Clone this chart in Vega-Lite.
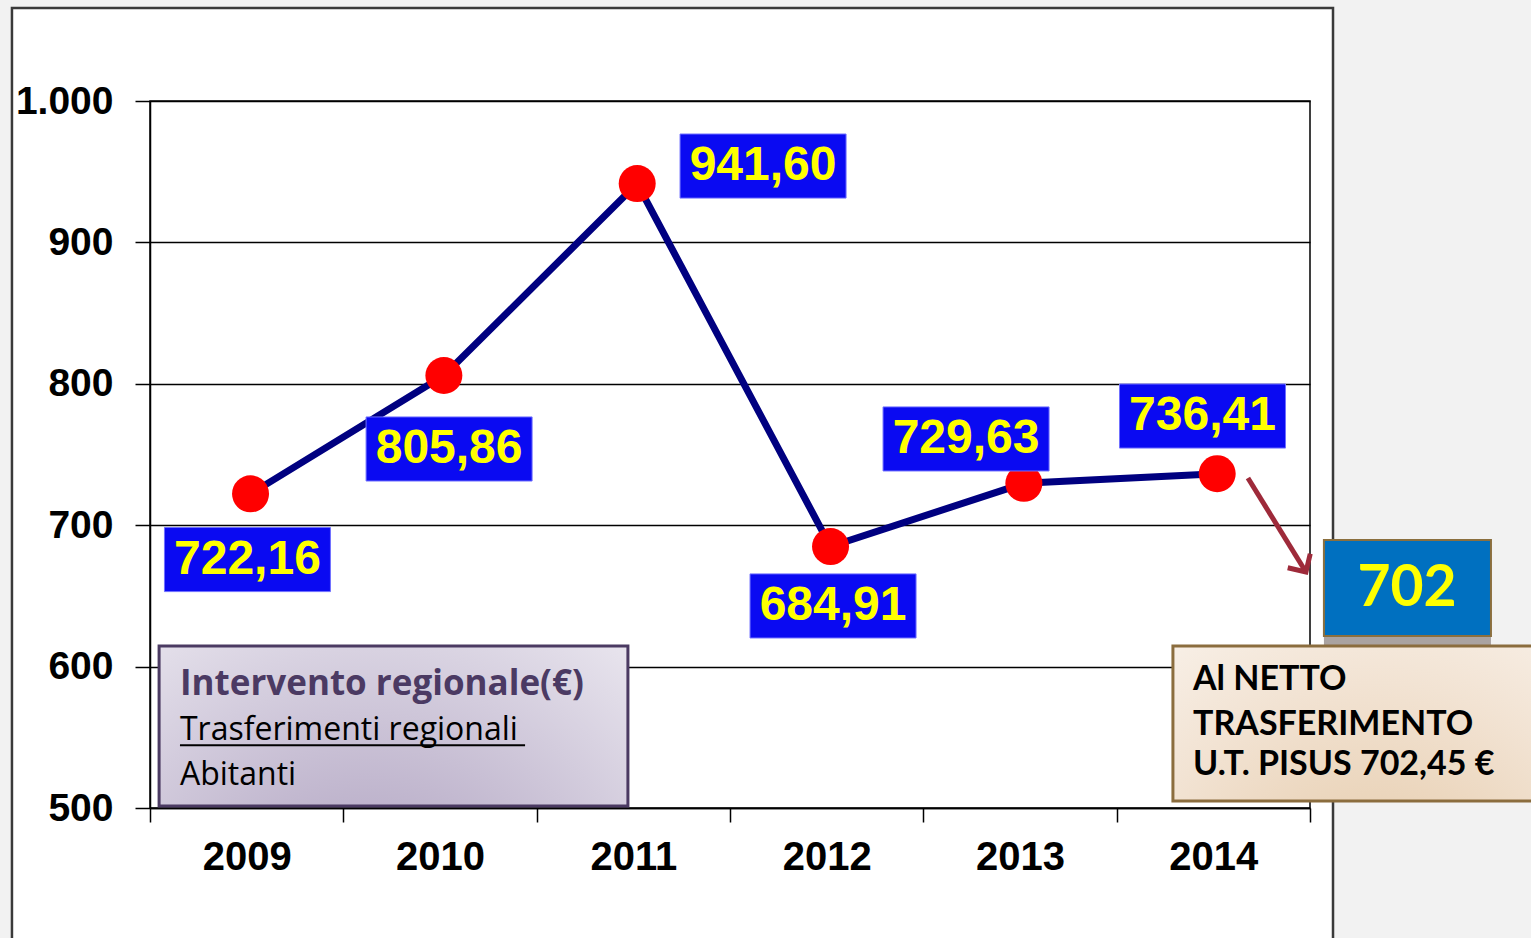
{
  "$schema": "https://vega.github.io/schema/vega-lite/v6.json",
  "width": 1160,
  "height": 707,
  "autosize": {"type": "none"},
  "padding": {"left": 150, "top": 101, "right": 221, "bottom": 130},
  "background": "white",
  "config": {"view": {"stroke": "black", "strokeWidth": 1.5}},
  "datasets": {
    "main": [
      {"year": "2009", "value": 722.16},
      {"year": "2010", "value": 805.86},
      {"year": "2011", "value": 941.60},
      {"year": "2012", "value": 684.91},
      {"year": "2013", "value": 729.63},
      {"year": "2014", "value": 736.41}
    ],
    "labels": [
      {"t": "722,16", "u": 0.504, "v": 675.7},
      {"t": "805,86", "u": 1.547, "v": 753.9},
      {"t": "941,60", "u": 3.171, "v": 954.0},
      {"t": "684,91", "u": 3.533, "v": 642.9},
      {"t": "729,63", "u": 4.221, "v": 761.0},
      {"t": "736,41", "u": 5.444, "v": 777.2}
    ],
    "exterior": [
      {"u": 6.119, "u2": 7.4, "v": 370, "v2": 1090},
      {"u": -0.9, "u2": 7.4, "v": 1065.8, "v2": 1090},
      {"u": -0.9, "u2": -0.714, "v": 370, "v2": 1090}
    ],
    "frame": [{"u": -0.714, "u2": 6.119, "v": 400, "v2": 1065.8}],
    "legendBox": [{"u": 0.047, "u2": 2.472, "v": 501.4, "v2": 614.6}],
    "legendTitle": [{"t": "Intervento regionale(€)", "u": 0.155, "v": 579.9}],
    "legendLines": [
      {"t": "Trasferimenti regionali", "u": 0.155, "v": 548.1},
      {"t": "Abitanti", "u": 0.155, "v": 516.3}
    ],
    "underline": [{"u": 0.155, "u2": 1.94, "v": 544.3}],
    "arrow": [{"u": 5.679, "u2": 5.979, "v": 733.4, "v2": 666.9}],
    "arrowHead": [{"u": 5.979, "v": 666.9}],
    "shadow": [{"u": 6.072, "u2": 6.936, "v": 614.6, "v2": 621.6}],
    "box702": [{"u": 6.072, "u2": 6.936, "v": 621.6, "v2": 689.5}],
    "text702": [{"t": "702", "u": 6.502, "v": 654.9}],
    "noteBox": [{"u": 5.291, "u2": 7.4, "v": 505.0, "v2": 614.6}],
    "noteLines": [
      {"t": "Al NETTO", "u": 5.395, "v": 583.5},
      {"t": "TRASFERIMENTO", "u": 5.395, "v": 551.6},
      {"t": "U.T. PISUS 702,45 €", "u": 5.395, "v": 523.3}
    ]
  },
  "layer": [
    {
      "encoding": {
        "x": {"field": "u", "type": "quantitative", "scale": {"domain": [0, 6], "nice": false, "zero": false}, "axis": null},
        "y": {"field": "v", "type": "quantitative", "scale": {"domain": [500, 1000], "nice": false, "zero": false}, "axis": null},
        "x2": {"field": "u2"},
        "y2": {"field": "v2"}
      },
      "layer": [
        {"data": {"name": "exterior"}, "mark": {"type": "rect", "fill": "#f2f2f2", "strokeWidth": 0}},
        {"data": {"name": "frame"}, "mark": {"type": "rect", "filled": false, "stroke": "#3a3a3a", "strokeWidth": 2.5}}
      ]
    },
    {
      "data": {"name": "main"},
      "encoding": {
        "x": {
          "field": "year", "type": "ordinal", "bandPosition": 0.52,
          "scale": {"type": "band", "paddingInner": 0, "paddingOuter": 0},
          "axis": {
            "title": null, "labelAngle": 0, "tickBand": "extent",
            "labelFont": "Liberation Sans", "labelFontWeight": "bold", "labelFontSize": 40, "labelColor": "black",
            "labelPadding": 15, "tickSize": 14, "tickColor": "black", "tickWidth": 1.5,
            "domainColor": "black", "domainWidth": 1.5, "grid": false
          }
        },
        "y": {
          "field": "value", "type": "quantitative",
          "scale": {"domain": [500, 1000], "nice": false, "zero": false},
          "axis": {
            "orient": "left", "title": null, "values": [500, 600, 700, 800, 900, 1000],
            "labelExpr": "replace(format(datum.value, ','), ',', '.')",
            "labelFont": "Liberation Sans", "labelFontWeight": "bold", "labelFontSize": 39, "labelColor": "black",
            "labelPadding": 22, "tickSize": 15, "tickColor": "black", "tickWidth": 1.5,
            "grid": true, "gridColor": "black", "gridWidth": 1.5, "gridOpacity": 1,
            "domainColor": "black", "domainWidth": 1.5
          }
        }
      },
      "layer": [
        {"mark": {"type": "line", "color": "#000080", "strokeWidth": 7}},
        {"mark": {"type": "point", "shape": "circle", "filled": true, "color": "#ff0000", "opacity": 1, "size": 1369}}
      ]
    },
    {
      "encoding": {
        "x": {"field": "u", "type": "quantitative", "scale": {"domain": [0, 6], "nice": false, "zero": false}, "axis": null},
        "y": {"field": "v", "type": "quantitative", "scale": {"domain": [500, 1000], "nice": false, "zero": false}, "axis": null}
      },
      "layer": [
        {"data": {"name": "labels"}, "mark": {"type": "point", "shape": "M-1,-0.386L1,-0.386L1,0.386L-1,0.386Z", "size": 27556, "filled": true, "fill": "#0a0af2", "stroke": "#7070ff", "strokeWidth": 1, "opacity": 1}},
        {"data": {"name": "labels"}, "mark": {"type": "text", "align": "center", "baseline": "middle", "font": "Liberation Sans", "fontWeight": "bold", "fontSize": 48, "color": "#ffff00"}, "encoding": {"text": {"field": "t"}}},
        {"data": {"name": "legendBox"}, "mark": {"type": "rect", "stroke": "#4b3a62", "strokeWidth": 3, "fill": {"gradient": "radial", "x1": 0.45, "y1": 1, "r1": 0, "x2": 0.45, "y2": 1, "r2": 1.0, "stops": [{"offset": 0, "color": "#a596b8"}, {"offset": 0.6, "color": "#d3ccdd"}, {"offset": 1, "color": "#f3f1f6"}]}}, "encoding": {"x2": {"field": "u2"}, "y2": {"field": "v2"}}},
        {"data": {"name": "legendTitle"}, "mark": {"type": "text", "align": "left", "baseline": "alphabetic", "font": "Open Sans", "fontWeight": "bold", "fontSize": 35, "color": "#4b3a63"}, "encoding": {"text": {"field": "t"}}},
        {"data": {"name": "legendLines"}, "mark": {"type": "text", "align": "left", "baseline": "alphabetic", "font": "Open Sans", "fontSize": 32, "color": "black"}, "encoding": {"text": {"field": "t"}}},
        {"data": {"name": "underline"}, "mark": {"type": "rule", "color": "black", "strokeWidth": 2}, "encoding": {"x2": {"field": "u2"}}},
        {"data": {"name": "arrow"}, "mark": {"type": "rule", "color": "#9e2a3a", "strokeWidth": 5}, "encoding": {"x2": {"field": "u2"}, "y2": {"field": "v2"}}},
        {"data": {"name": "arrowHead"}, "mark": {"type": "point", "shape": "M-1,-1L0,0L1,-1", "filled": false, "stroke": "#9e2a3a", "strokeWidth": 5, "size": 700, "angle": -31.7, "opacity": 1}},
        {"data": {"name": "shadow"}, "mark": {"type": "rect", "fill": "#aaa3a1", "strokeWidth": 0}, "encoding": {"x2": {"field": "u2"}, "y2": {"field": "v2"}}},
        {"data": {"name": "box702"}, "mark": {"type": "rect", "fill": "#0070c0", "stroke": "#8b6f3e", "strokeWidth": 2}, "encoding": {"x2": {"field": "u2"}, "y2": {"field": "v2"}}},
        {"data": {"name": "text702"}, "mark": {"type": "text", "align": "center", "baseline": "middle", "font": "Lato", "fontWeight": "bold", "fontSize": 57, "color": "#ffff00"}, "encoding": {"text": {"field": "t"}}},
        {"data": {"name": "noteBox"}, "mark": {"type": "rect", "stroke": "#8b6d3e", "strokeWidth": 3, "fill": {"gradient": "radial", "x1": 0.5, "y1": 1, "r1": 0, "x2": 0.5, "y2": 1, "r2": 1.0, "stops": [{"offset": 0, "color": "#e3c6a2"}, {"offset": 0.6, "color": "#f2e3d3"}, {"offset": 1, "color": "#fbf6f1"}]}}, "encoding": {"x2": {"field": "u2"}, "y2": {"field": "v2"}}},
        {"data": {"name": "noteLines"}, "mark": {"type": "text", "align": "left", "baseline": "alphabetic", "font": "Lato", "fontWeight": "bold", "fontSize": 34, "color": "black"}, "encoding": {"text": {"field": "t"}}}
      ]
    }
  ],
  "resolve": {"scale": {"x": "independent"}, "axis": {"y": "independent"}}
}
